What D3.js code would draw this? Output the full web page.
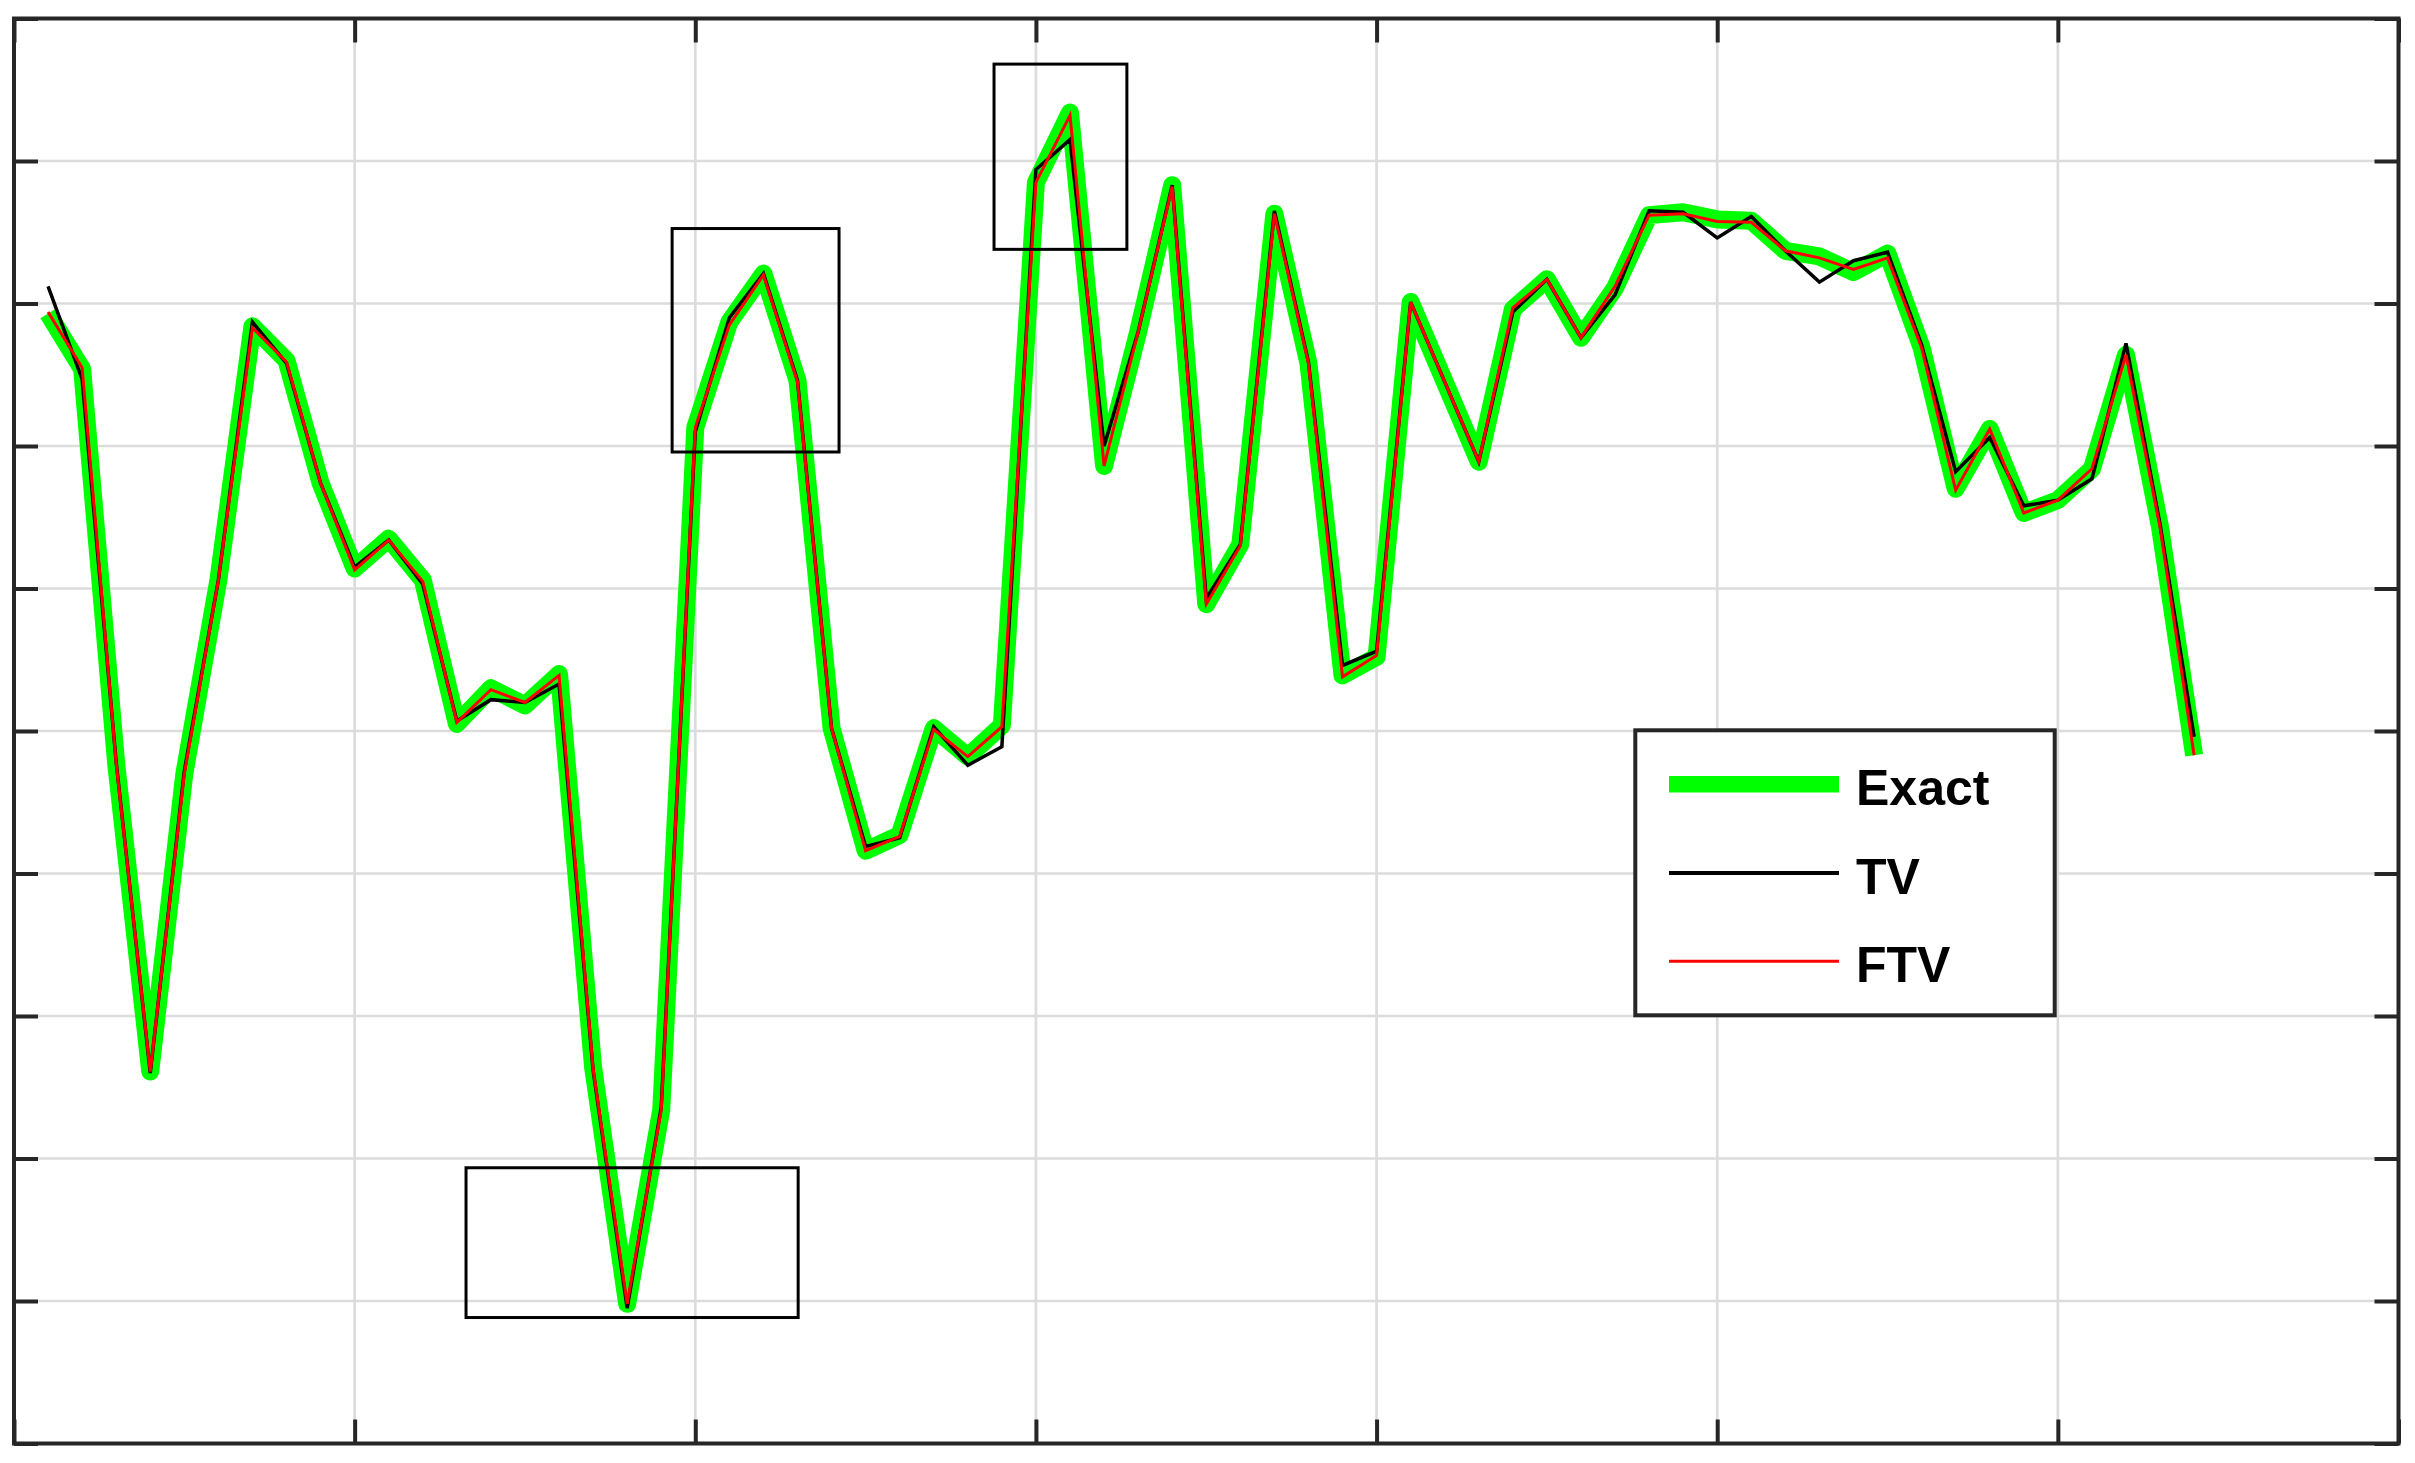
<!DOCTYPE html>
<html lang="en">

<head>
  <meta charset="UTF-8">
  <title>exact tv ftv</title>
  <script src="https://d3js.org/d3.v7.min.js"></script>
  <style>
    body { margin: 0; background: #fff; }
  </style>
</head>

<body>

  <div id="chart"></div>

  <script>
    // sample positions 0.1 .. 6.4
    var xs = d3.range(1, 65).map(function (i) { return i / 10; });

    var exact = [7.93, 7.54, 4.77, 2.61, 4.70, 6.06, 7.84, 7.60, 6.74, 6.14,
      6.35, 6.06, 5.05, 5.30, 5.18, 5.40, 2.64, 0.98, 2.34, 7.13,
      7.87, 8.21, 7.46, 5.02, 4.16, 4.27, 5.02, 4.82, 5.04, 8.85,
      9.34, 6.86, 7.80, 8.83, 5.89, 6.31, 8.63, 7.58, 5.39, 5.52,
      8.01, 7.45, 6.89, 7.96, 8.17, 7.76, 8.11, 8.62, 8.64, 8.59,
      8.58, 8.37, 8.33, 8.22, 8.35, 7.69, 6.70, 7.12, 6.53, 6.62,
      6.84, 7.64, 6.43, 4.83];

    var tv = [8.12, 7.47, 4.78, 2.60, 4.72, 6.06, 7.87, 7.58, 6.74, 6.15,
      6.34, 6.03, 5.07, 5.22, 5.20, 5.33, 2.62, 0.95, 2.36, 7.10,
      7.90, 8.21, 7.46, 5.02, 4.19, 4.25, 5.03, 4.76, 4.89, 8.94,
      9.15, 7.00, 7.80, 8.83, 5.93, 6.31, 8.65, 7.59, 5.46, 5.56,
      8.01, 7.45, 6.89, 7.94, 8.17, 7.76, 8.06, 8.65, 8.64, 8.46,
      8.61, 8.37, 8.15, 8.30, 8.36, 7.71, 6.82, 7.06, 6.58, 6.62,
      6.77, 7.72, 6.45, 4.96];

    var ftv = [7.94, 7.55, 4.77, 2.61, 4.70, 6.06, 7.83, 7.59, 6.74, 6.13,
      6.34, 6.05, 5.06, 5.29, 5.20, 5.39, 2.63, 0.98, 2.34, 7.13,
      7.85, 8.20, 7.45, 5.02, 4.16, 4.26, 5.01, 4.82, 5.03, 8.85,
      9.32, 6.86, 7.80, 8.82, 5.89, 6.30, 8.63, 7.58, 5.38, 5.53,
      8.01, 7.45, 6.89, 7.97, 8.17, 7.76, 8.12, 8.62, 8.63, 8.575,
      8.57, 8.37, 8.32, 8.24, 8.32, 7.69, 6.69, 7.12, 6.53, 6.62,
      6.84, 7.64, 6.43, 4.83];

    // zoom rectangles [x0, x1, y0, y1] in data units
    var zoomBoxes = [
      [1.327, 2.302, 0.884, 1.935],
      [1.932, 2.422, 6.958, 8.526],
      [2.877, 3.267, 8.380, 9.680]
    ];

    var legendNames = ["Exact", "TV", "FTV"];
    var xTicks = d3.range(0, 8);
    var yTicks = d3.range(0, 11);

    var width = 2415, height = 1463;
    var plotL = 14, plotR = 2398.5, plotT = 18.5, plotB = 1443.5;
    var axisColor = "#262626";

    var x = d3.scaleLinear().domain([0, 7]).range([plotL, plotR]);
    var y = d3.scaleLinear().domain([0, 10]).range([plotB, plotT]);

    var svg = d3.select("#chart").append("svg")
      .attr("width", width)
      .attr("height", height)
      .style("display", "block");

    // grid
    svg.append("g")
      .selectAll("line")
      .data(xTicks.slice(1, -1))
      .enter().append("line")
      .attr("x1", function (d) { return x(d); })
      .attr("x2", function (d) { return x(d); })
      .attr("y1", plotT).attr("y2", plotB)
      .attr("stroke", "#dcdcdc").attr("stroke-width", 2.7);

    svg.append("g")
      .selectAll("line")
      .data(yTicks.slice(1, -1))
      .enter().append("line")
      .attr("y1", function (d) { return y(d); })
      .attr("y2", function (d) { return y(d); })
      .attr("x1", plotL).attr("x2", plotR)
      .attr("stroke", "#dcdcdc").attr("stroke-width", 2.7);

    var series = [
      { name: "Exact", values: exact, color: "#00ff00", w: 18, join: "round" },
      { name: "TV", values: tv, color: "#000000", w: 3.5, join: "miter" },
      { name: "FTV", values: ftv, color: "#ff0000", w: 3, join: "miter" }
    ];

    var line = d3.line()
      .x(function (d, i) { return x(xs[i]); })
      .y(function (d) { return y(d); });

    series.forEach(function (s) {
      svg.append("path")
        .datum(s.values)
        .attr("d", line)
        .attr("fill", "none")
        .attr("stroke", s.color)
        .attr("stroke-width", s.w)
        .attr("stroke-linejoin", s.join)
        .attr("stroke-linecap", "butt");
    });

    // zoom boxes
    svg.append("g")
      .selectAll("rect")
      .data(zoomBoxes)
      .enter().append("rect")
      .attr("x", function (d) { return x(d[0]); })
      .attr("y", function (d) { return y(d[3]); })
      .attr("width", function (d) { return x(d[1]) - x(d[0]); })
      .attr("height", function (d) { return y(d[2]) - y(d[3]); })
      .attr("fill", "none")
      .attr("stroke", "#000")
      .attr("stroke-width", 3);

    // axes with inward ticks, no labels
    function styleAxis(g) {
      g.select(".domain").remove();
      g.selectAll(".tick line").attr("stroke", axisColor).attr("stroke-width", 4);
      g.selectAll(".tick text").remove();
    }

    svg.append("g").attr("transform", "translate(0," + plotB + ")")
      .call(d3.axisBottom(x).tickValues(xTicks).tickSize(-24).tickFormat(""))
      .call(styleAxis);
    svg.append("g").attr("transform", "translate(0," + plotT + ")")
      .call(d3.axisTop(x).tickValues(xTicks).tickSize(-24).tickFormat(""))
      .call(styleAxis);
    svg.append("g").attr("transform", "translate(" + plotL + ",0)")
      .call(d3.axisLeft(y).tickValues(yTicks).tickSize(-24).tickFormat(""))
      .call(styleAxis);
    svg.append("g").attr("transform", "translate(" + plotR + ",0)")
      .call(d3.axisRight(y).tickValues(yTicks).tickSize(-24).tickFormat(""))
      .call(styleAxis);

    svg.append("rect")
      .attr("x", plotL).attr("y", plotT)
      .attr("width", plotR - plotL).attr("height", plotB - plotT)
      .attr("fill", "none")
      .attr("stroke", axisColor)
      .attr("stroke-width", 4);

    // legend
    var legend = svg.append("g");
    legend.append("rect")
      .attr("x", 1635.3).attr("y", 730.3)
      .attr("width", 2054.7 - 1635.3).attr("height", 1015.3 - 730.3)
      .attr("fill", "#fff")
      .attr("stroke", axisColor)
      .attr("stroke-width", 4);

    var rowY = [784.3, 873, 961.3];
    series.forEach(function (s, i) {
      legend.append("line")
        .attr("x1", 1669).attr("x2", 1839)
        .attr("y1", rowY[i]).attr("y2", rowY[i])
        .attr("stroke", s.color)
        .attr("stroke-width", i === 0 ? 16.5 : (i === 1 ? 4 : 3));
      legend.append("text")
        .attr("x", 1856)
        .attr("y", rowY[i] + 20.5)
        .attr("font-family", "'Liberation Sans', Arial, sans-serif")
        .attr("font-weight", "bold")
        .attr("font-size", 50)
        .attr("fill", "#000")
        .text(legendNames[i]);
    });
  </script>

</body>

</html>
